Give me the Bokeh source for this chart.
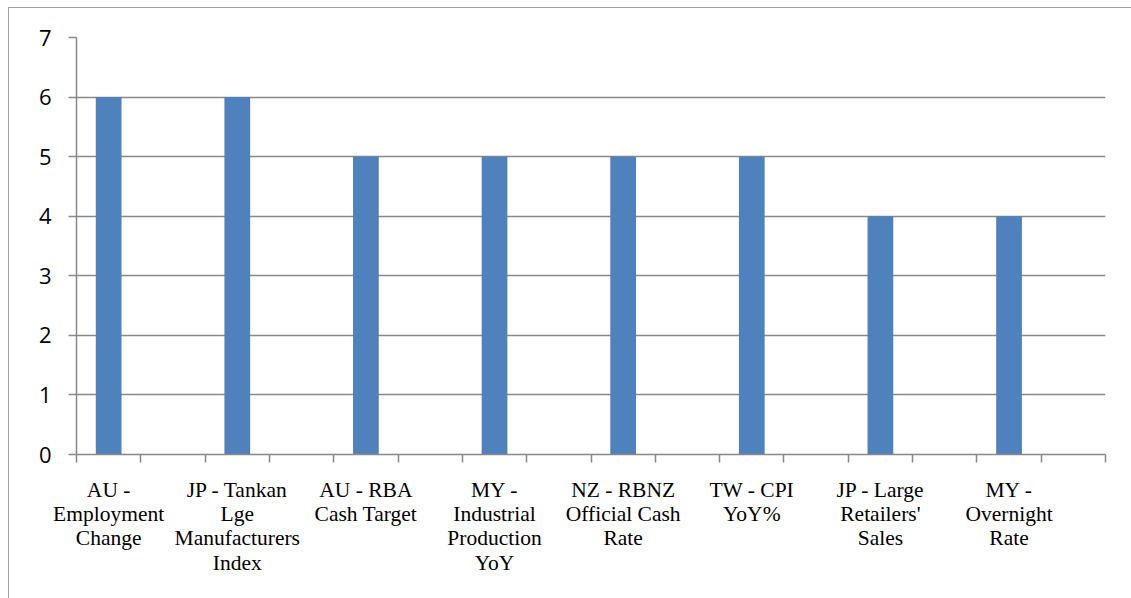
from bokeh.plotting import figure
from bokeh.models import ColumnDataSource, FixedTicker, Range1d
from bokeh.embed import file_html
from bokeh.resources import INLINE

# Indicator names (wrapped as they appear under the axis) and their counts
categories = [
    "AU -\nEmployment\nChange",
    "JP - Tankan\nLge\nManufacturers\nIndex",
    "AU - RBA\nCash Target",
    "MY -\nIndustrial\nProduction\nYoY",
    "NZ - RBNZ\nOfficial Cash\nRate",
    "TW - CPI\nYoY%",
    "JP - Large\nRetailers'\nSales",
    "MY -\nOvernight\nRate",
]
counts = [6, 6, 5, 5, 5, 5, 4, 4]
y_ticks = [0, 1, 2, 3, 4, 5, 6, 7]

# every indicator occupies a slot followed by an empty slot
n_slots = 2 * len(categories)
centers = [2 * i + 0.5 for i in range(len(categories))]

source = ColumnDataSource(dict(x=centers, top=counts, name=categories))

GRID = "#898989"

p = figure(
    width=1123, height=591,
    x_range=Range1d(0, n_slots), y_range=Range1d(0, 7),
    output_backend="svg", toolbar_location=None,
    min_border_left=67, min_border_right=27, min_border_top=29, min_border_bottom=145,
    margin=(7, 0, 0, 8),
)
p.styles = {"border-left": "1px solid #a0a0a0", "border-top": "1px solid #a0a0a0"}
p.outline_line_color = None
p.background_fill_color = "white"
p.border_fill_color = "white"

p.vbar(x="x", top="top", width=0.4, bottom=0, source=source,
       fill_color="#4F81BD", line_color=None)

# horizontal gridlines only
p.xgrid.grid_line_color = None
p.ygrid.ticker = FixedTicker(ticks=y_ticks)
p.ygrid.grid_line_color = GRID
p.ygrid.grid_line_width = 1.5

# y axis
p.yaxis.ticker = FixedTicker(ticks=y_ticks)
p.yaxis.axis_line_color = GRID
p.yaxis.axis_line_width = 1.5
p.yaxis.major_tick_line_color = GRID
p.yaxis.major_tick_line_width = 1.5
p.yaxis.major_tick_in = 0
p.yaxis.major_tick_out = 8
p.yaxis.minor_tick_line_color = None
p.yaxis.major_label_text_font = "'Open Sans', sans-serif"
p.yaxis.major_label_text_font_size = "22px"
p.yaxis.major_label_text_color = "black"
p.yaxis.major_label_standoff = 17

# x axis: labels under the bars, tick marks on slot boundaries
p.xaxis.ticker = FixedTicker(ticks=centers, minor_ticks=list(range(n_slots + 1)))
p.xaxis.major_label_overrides = {c: name for c, name in zip(centers, categories)}
p.xaxis.axis_line_color = GRID
p.xaxis.axis_line_width = 1.5
p.xaxis.major_tick_line_color = None
p.xaxis.minor_tick_line_color = GRID
p.xaxis.minor_tick_line_width = 1.5
p.xaxis.minor_tick_in = 0
p.xaxis.minor_tick_out = 8
p.xaxis.major_label_text_font = "'Liberation Serif', 'Times New Roman', serif"
p.xaxis.major_label_text_font_size = "21.5px"
p.xaxis.major_label_text_line_height = 1.02
p.xaxis.major_label_text_color = "black"
p.xaxis.major_label_text_align = "center"
p.xaxis.major_label_standoff = 15
p.xaxis.major_label_orientation = "horizontal"

open("out.html", "w").write(file_html(p, INLINE))
